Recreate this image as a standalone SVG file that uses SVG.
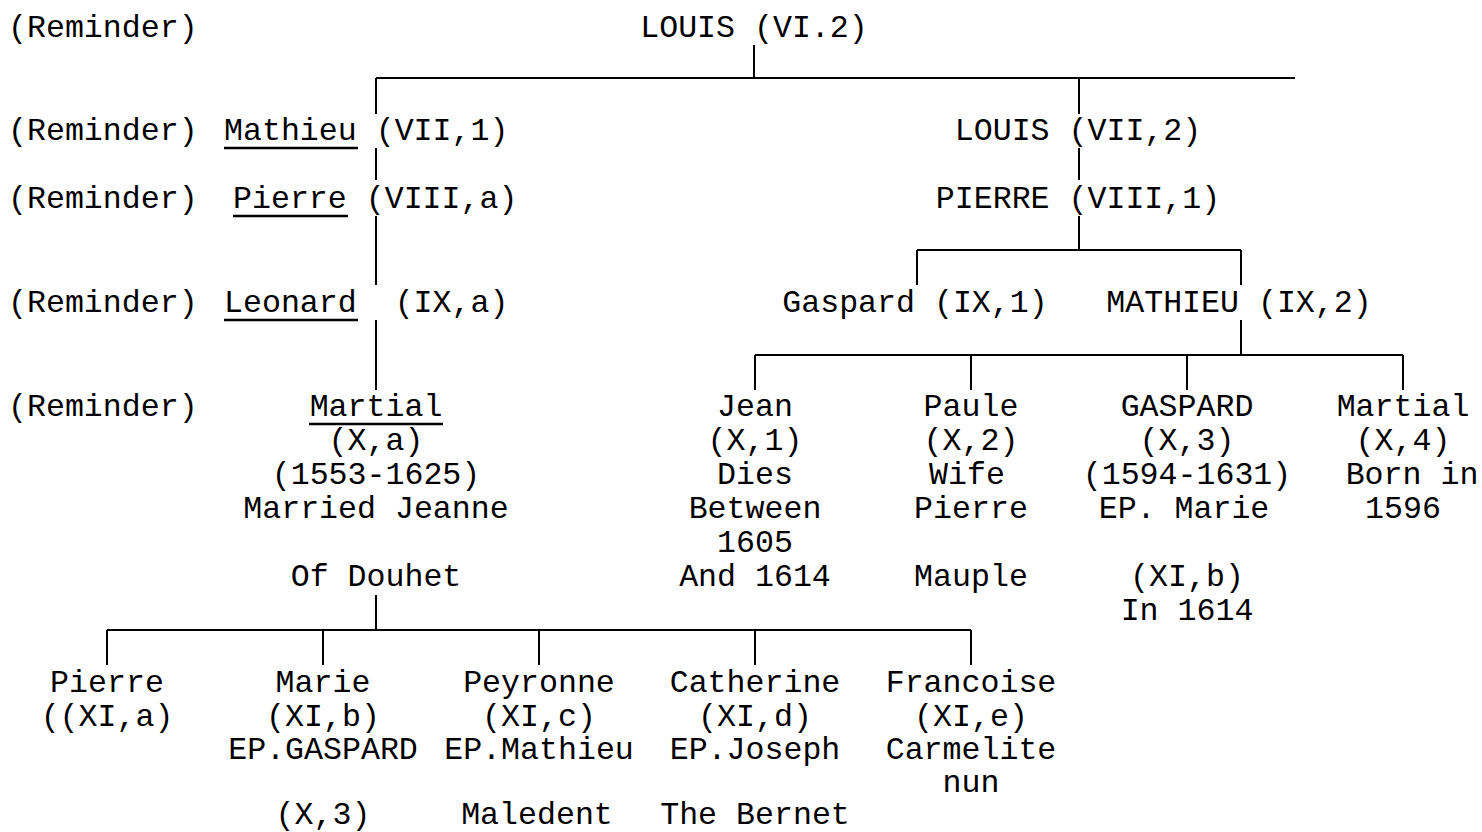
<svg xmlns="http://www.w3.org/2000/svg" width="1482" height="832" viewBox="0 0 1482 832">
  <style>
    text { font-family: "Liberation Mono", "Courier New", monospace; font-size: 31.6px; fill: #000; }
    .c { text-anchor: middle; }
    .ul { stroke: #000; stroke-width: 2.5; }
    .wire { stroke: #000; stroke-width: 2; fill: none; }
  </style>
  <rect width="1482" height="832" fill="#fff"/>

  <!-- connectors -->
  <g id="connectors" class="wire">
    <path d="M754 45V78 M376 78H1295"/>
    <path d="M376 78V114 M376 148V180 M376 216V285 M376 320V390"/>
    <path d="M1079 78V114 M1079 148V180 M1079 216V250"/>
    <path d="M917 250H1241 M917 250V285 M1241 250V285"/>
    <path d="M1241 320V355 M755 355H1403 M755 355V390 M971 355V390 M1187 355V390 M1403 355V390"/>
    <path d="M376 595V630 M107 630H971 M107 630V665 M323 630V665 M539 630V665 M755 630V665 M971 630V665"/>
  </g>

  <!-- reminder labels -->
  <g id="reminders">
    <text x="8" y="37">(Reminder)</text>
    <text x="8" y="140">(Reminder)</text>
    <text x="8" y="208">(Reminder)</text>
    <text x="8" y="312">(Reminder)</text>
    <text x="8" y="416">(Reminder)</text>
  </g>

  <g id="louis-vi2"><text class="c" x="754" y="37">LOUIS (VI.2)</text></g>

  <g id="mathieu-vii1">
    <text x="224" y="140" xml:space="preserve">Mathieu (VII,1)</text>
    <line class="ul" x1="224" y1="148" x2="358" y2="148"/>
  </g>
  <g id="pierre-viiia">
    <text x="233" y="208" xml:space="preserve">Pierre (VIII,a)</text>
    <line class="ul" x1="233" y1="216" x2="348" y2="216"/>
  </g>
  <g id="leonard-ixa">
    <text x="224" y="312" xml:space="preserve">Leonard  (IX,a)</text>
    <line class="ul" x1="224" y1="320" x2="358" y2="320"/>
  </g>
  <g id="martial-xa">
    <text class="c" x="376" y="416">Martial</text>
    <line class="ul" x1="309" y1="424" x2="443" y2="424"/>
    <text class="c" x="376" y="450">(X,a)</text>
    <text class="c" x="376" y="484">(1553-1625)</text>
    <text class="c" x="376" y="518">Married Jeanne</text>
    <text class="c" x="376" y="586">Of Douhet</text>
  </g>

  <g id="louis-vii2"><text class="c" x="1078" y="140">LOUIS (VII,2)</text></g>
  <g id="pierre-viii1"><text class="c" x="1078" y="208">PIERRE (VIII,1)</text></g>
  <g id="gaspard-ix1"><text class="c" x="915" y="312">Gaspard (IX,1)</text></g>
  <g id="mathieu-ix2"><text class="c" x="1239" y="312">MATHIEU (IX,2)</text></g>

  <g id="jean-x1">
    <text class="c" x="755" y="416">Jean</text>
    <text class="c" x="755" y="450">(X,1)</text>
    <text class="c" x="755" y="484">Dies</text>
    <text class="c" x="755" y="518">Between</text>
    <text class="c" x="755" y="552">1605</text>
    <text class="c" x="755" y="586">And 1614</text>
  </g>
  <g id="paule-x2">
    <text class="c" x="971" y="416">Paule</text>
    <text class="c" x="971" y="450">(X,2)</text>
    <text class="c" x="967" y="484">Wife</text>
    <text class="c" x="971" y="518">Pierre</text>
    <text class="c" x="971" y="586">Mauple</text>
  </g>
  <g id="gaspard-x3">
    <text class="c" x="1187" y="416">GASPARD</text>
    <text class="c" x="1187" y="450">(X,3)</text>
    <text class="c" x="1187" y="484">(1594-1631)</text>
    <text class="c" x="1184" y="518">EP. Marie</text>
    <text class="c" x="1187" y="586">(XI,b)</text>
    <text class="c" x="1187" y="620">In 1614</text>
  </g>
  <g id="martial-x4">
    <text class="c" x="1403" y="416">Martial</text>
    <text class="c" x="1403" y="450">(X,4)</text>
    <text class="c" x="1412" y="484">Born in</text>
    <text class="c" x="1403" y="518">1596</text>
  </g>

  <g id="pierre-xia">
    <text class="c" x="107" y="692">Pierre</text>
    <text class="c" x="107" y="726">((XI,a)</text>
  </g>
  <g id="marie-xib">
    <text class="c" x="323" y="692">Marie</text>
    <text class="c" x="323" y="726">(XI,b)</text>
    <text class="c" x="323" y="759">EP.GASPARD</text>
    <text class="c" x="323" y="824">(X,3)</text>
  </g>
  <g id="peyronne-xic">
    <text class="c" x="539" y="692">Peyronne</text>
    <text class="c" x="539" y="726">(XI,c)</text>
    <text class="c" x="539" y="759">EP.Mathieu</text>
    <text class="c" x="537" y="824">Maledent</text>
  </g>
  <g id="catherine-xid">
    <text class="c" x="755" y="692">Catherine</text>
    <text class="c" x="755" y="726">(XI,d)</text>
    <text class="c" x="755" y="759">EP.Joseph</text>
    <text class="c" x="755" y="824">The Bernet</text>
  </g>
  <g id="francoise-xie">
    <text class="c" x="971" y="692">Francoise</text>
    <text class="c" x="971" y="726">(XI,e)</text>
    <text class="c" x="971" y="759">Carmelite</text>
    <text class="c" x="971" y="792">nun</text>
  </g>
</svg>
